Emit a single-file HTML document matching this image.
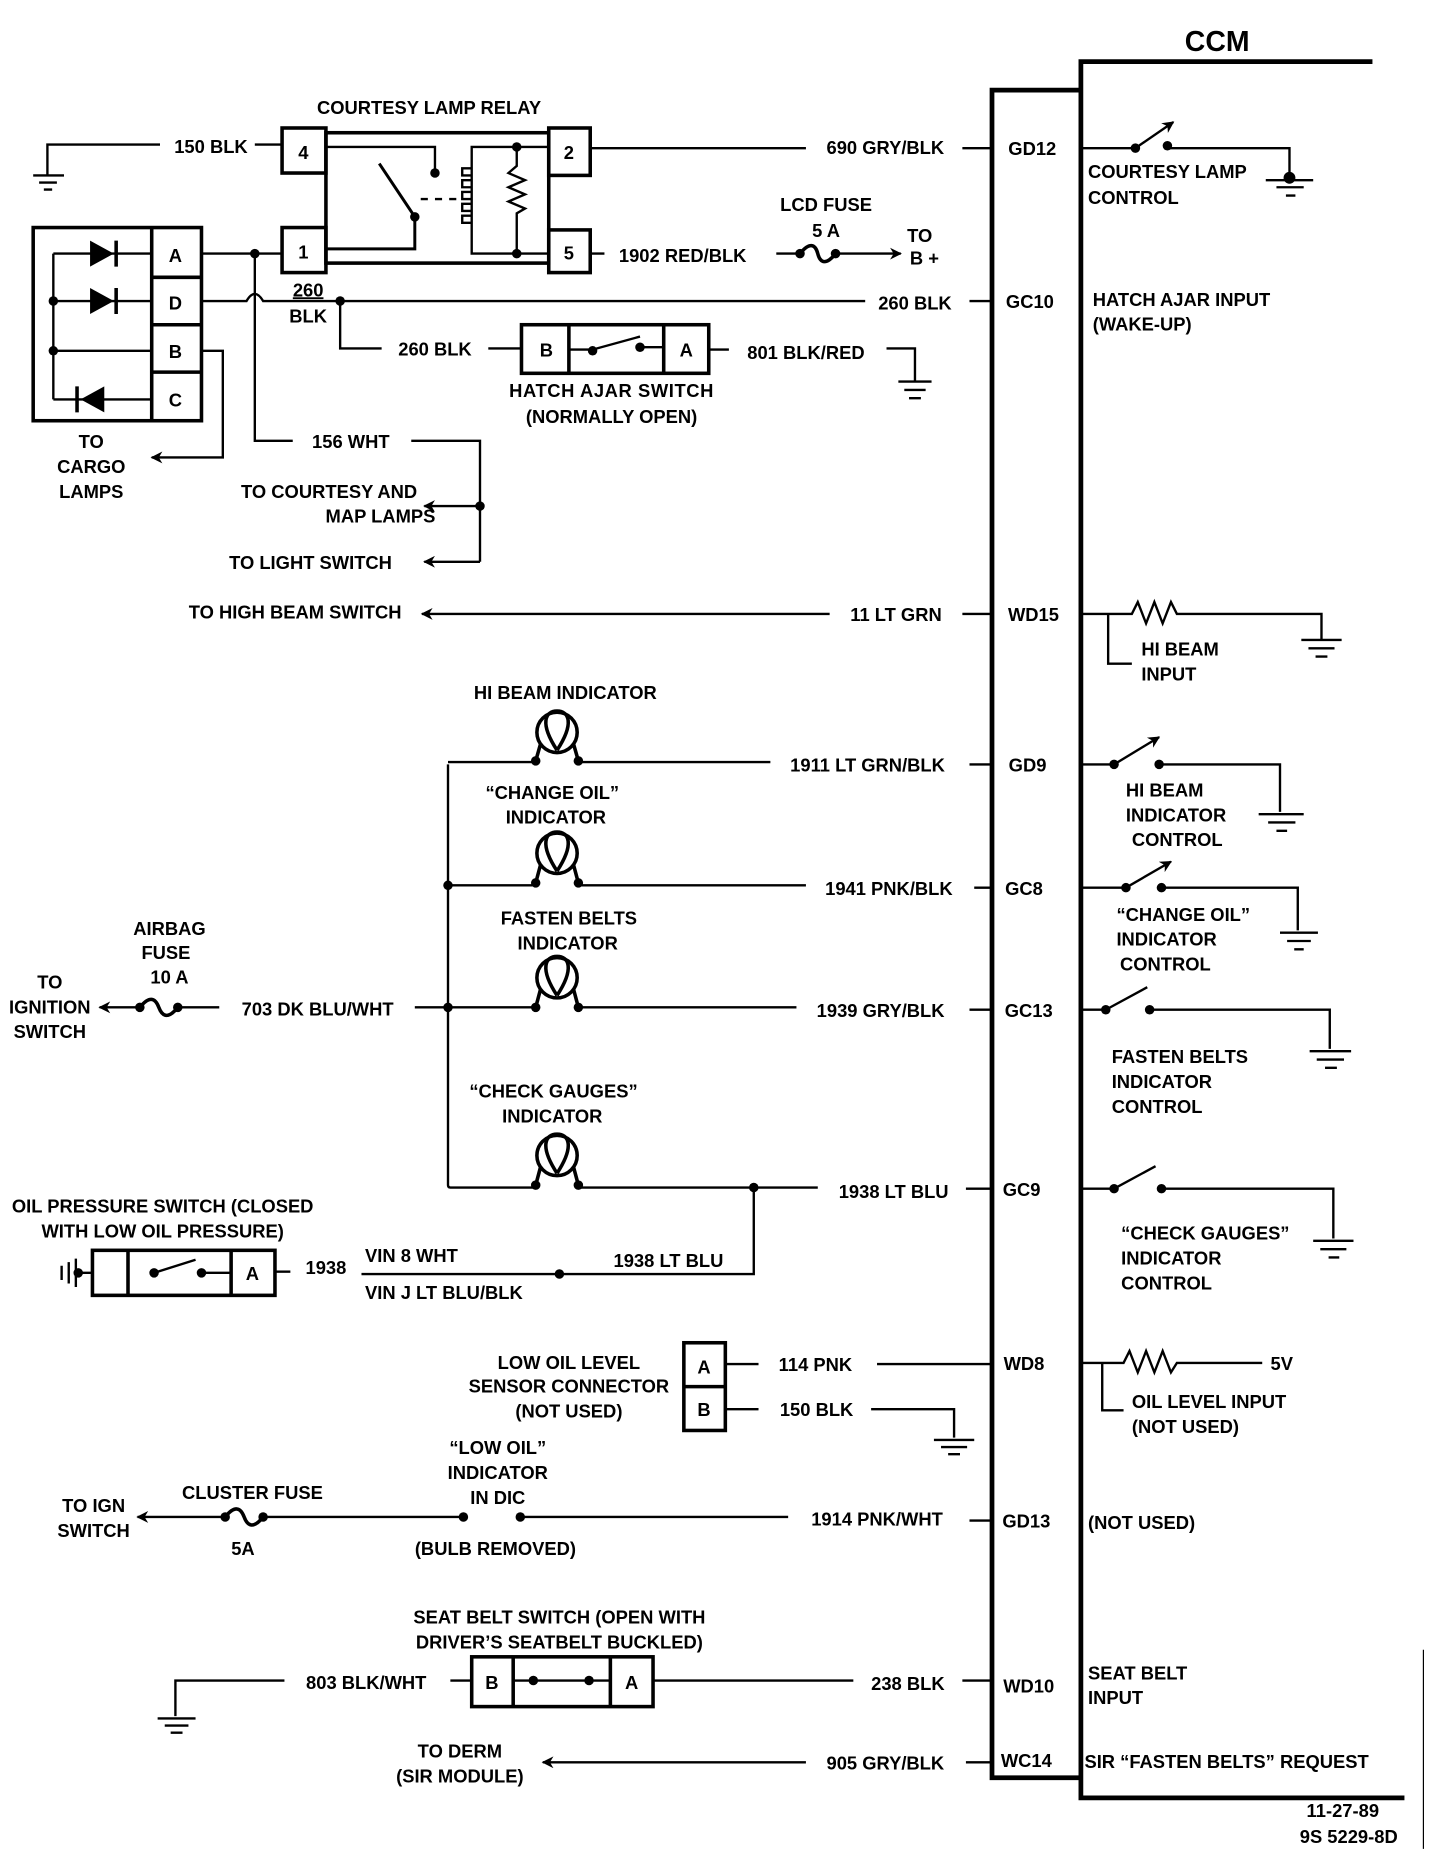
<!DOCTYPE html>
<html><head><meta charset="utf-8"><style>
html,body{margin:0;padding:0;background:#fff}
svg{display:block}
text{font-family:"Liberation Sans",sans-serif;font-weight:bold;font-size:15.5px;fill:#000}
.m{text-anchor:middle}.e{text-anchor:end}
</style></head><body>
<svg width="1440" height="1850" viewBox="0 0 1215 1561" preserveAspectRatio="none" xmlns="http://www.w3.org/2000/svg">
<defs>
<marker id="ar" viewBox="0 0 10 10" refX="9" refY="5" markerWidth="12" markerHeight="10" markerUnits="userSpaceOnUse" orient="auto"><path d="M10,5 L0,0 L3,5 L0,10 Z" fill="#000"/></marker>
</defs>
<g stroke="#000" stroke-width="2" fill="none">
<path d="M912,52 H1158 M912,50 V1517 H1185" stroke-width="4"/>
<path d="M912,76 H837 V1500 H912" stroke-width="4"/>
<path d="M135,122 H40 V148 M28,148 H54 M33,154 H48 M37,160 H44"/>
<path d="M215,122 H238"/>
<rect x="275" y="112" width="188" height="110" stroke-width="3"/>
<rect x="238" y="108" width="37" height="38" stroke-width="3"/>
<rect x="238" y="192" width="37" height="38" stroke-width="3"/>
<rect x="463" y="108" width="35" height="40" stroke-width="3"/>
<rect x="463" y="194" width="35" height="36" stroke-width="3"/>
<path d="M275,124 H367 V146"/>
<path d="M320,138 L350,183 V210 H275" stroke-width="2.5"/>
<path d="M355,168 H388" stroke-dasharray="6,6"/>
<path d="M436,124 H398 V214 H463 M436,124 H463"/>
<path d="M398,142 h-8 v6 h8 M398,152 h-8 v6 h8 M398,162 h-8 v6 h8 M398,172 h-8 v6 h8 M398,182 h-8 v6 h8"/>
<path d="M436,124 V140 l-7,6 l14,6 l-14,6 l14,6 l-14,6 l14,6 l-7,4 V214"/>
<path d="M498,125 H680 M812,125 H836"/>
<path d="M498,214 H510 M655,214 H675"/>
<path d="M675,214 C683,204 688,206 690,214 C692,222 697,224 705,214" stroke-width="3"/>
<path d="M705,214 H760" marker-end="url(#ar)"/>
<rect x="28" y="192" width="142" height="163" stroke-width="3"/>
<path d="M128,192 V355 M128,234 H170 M128,274 H170 M128,314 H170" stroke-width="3"/>
<path d="M45,214 H128 M45,254 H128 M45,296 H128 M45,337 H128 M45,214 V337"/>
<path d="M98,203 V225 M98,243 V265 M65,326 V348" stroke-width="3"/>
<path d="M170,214 H238 M215,214 V372 H247 M347,372 H405 V474"/>
<path d="M405,427 H358" marker-end="url(#ar)"/>
<path d="M405,474 H358" marker-end="url(#ar)"/>
<path d="M170,254 H208 Q215,242 222,254 H730 M818,254 H836"/>
<path d="M287,254 V294 H322 M412,294 H440"/>
<rect x="440" y="274" width="158" height="41" stroke-width="3"/>
<path d="M480,274 V315 M560,274 V315" stroke-width="3"/>
<path d="M480,295 H500 L540,284 M540,293 H560"/>
<path d="M598,295 H615 M748,294 H772 V322 M758,322 H786 M763,329 H781 M767,336 H777"/>
<path d="M170,296 H188 V386 H128" marker-end="url(#ar)"/>
<path d="M912,125 H958 M985,125 H1088 V150 M1068,152 H1108 M1077,158 H1100 M1085,165 H1093"/>
<path d="M958,125 L990,103" marker-end="url(#ar)"/>
<path d="M700,518 H356" marker-end="url(#ar)"/>
<path d="M812,518 H836"/>
<path d="M912,518 H955 l5,-10 l7,18 l7,-18 l7,18 l7,-18 l5,10 H1115 V540 M1098,540 H1132 M1104,547 H1126 M1110,554 H1120"/>
<path d="M935,518 V560 H955"/>
<path d="M378,645 V1000 Q378,1002 380,1002 H452 M488,1002 H690"/>
<path d="M378,643 H452 M488,643 H650 M818,645 H836"/>
<path d="M378,747 H452 M488,747 H680 M822,749 H836"/>
<path d="M350,850 H452 M488,850 H672 M818,852 H836"/>
<path d="M815,1003 H836"/>
<path d="M636,1002 V1075 H305"/>
<g stroke-width="3">
<circle cx="470" cy="618" r="17"/><path d="M470,633 C455,610 460,600 470,600 C480,600 485,610 470,633 M456,628 L452,642 M484,628 L488,642"/>
<circle cx="470" cy="720" r="17"/><path d="M470,735 C455,712 460,702 470,702 C480,702 485,712 470,735 M456,730 L452,745 M484,730 L488,745"/>
<circle cx="470" cy="825" r="17"/><path d="M470,840 C455,817 460,807 470,807 C480,807 485,817 470,840 M456,835 L452,850 M484,835 L488,850"/>
<circle cx="470" cy="975" r="17"/><path d="M470,990 C455,967 460,957 470,957 C480,957 485,967 470,990 M456,985 L452,1000 M484,985 L488,1000"/>
</g>
<path d="M118,850 H84" marker-end="url(#ar)"/>
<path d="M118,850 C126,840 131,842 134,850 C137,858 142,860 150,850" stroke-width="3"/>
<path d="M150,850 H185"/>
<path d="M912,645 H940 M978,645 H1080 V685 M1062,687 H1100 M1070,694 H1093 M1077,701 H1086"/>
<path d="M940,645 L978,622" marker-end="url(#ar)"/>
<path d="M912,749 H950 M980,749 H1095 V785 M1080,787 H1112 M1086,794 H1106 M1092,801 H1100"/>
<path d="M950,749 L988,727" marker-end="url(#ar)"/>
<path d="M912,852 H933 L968,833 M970,852 H1122 V885 M1105,887 H1140 M1111,894 H1134 M1118,901 H1128"/>
<path d="M912,1003 H940 L975,984 M980,1003 H1125 V1045 M1108,1047 H1142 M1114,1054 H1136 M1121,1061 H1130"/>
<rect x="78" y="1055" width="154" height="38" stroke-width="3"/>
<path d="M108,1055 V1093 M195,1055 V1093" stroke-width="3"/>
<path d="M130,1074 L165,1063 M170,1074 H195"/>
<path d="M64,1074 H78 M64,1062 V1086 M58,1065 V1083 M52,1068 V1080"/>
<path d="M232,1073 H245"/>
<rect x="577" y="1133" width="35" height="74" stroke-width="3"/>
<path d="M577,1170 H612" stroke-width="3"/>
<path d="M612,1151 H640 M740,1151 H836 M612,1189 H640 M735,1189 H805 V1213 M788,1215 H822 M794,1221 H816 M800,1227 H810"/>
<path d="M912,1150 H948 l5,-10 l7,18 l7,-18 l7,18 l7,-18 l7,18 l5,-8 H1065"/>
<path d="M930,1150 V1190 H948"/>
<path d="M190,1280 H116" marker-end="url(#ar)"/>
<path d="M190,1280 C198,1270 203,1272 206,1280 C209,1288 214,1290 222,1280" stroke-width="3"/>
<path d="M222,1280 H391 M439,1280 H665 M818,1283 H836"/>
<rect x="398" y="1398" width="153" height="42" stroke-width="3"/>
<path d="M433,1398 V1440 M515,1398 V1440" stroke-width="3"/>
<path d="M433,1418 H515"/>
<path d="M240,1418 H148 V1448 M133,1450 H165 M139,1456 H159 M144,1462 H154 M380,1418 H398 M551,1418 H720 M812,1418 H836"/>
<path d="M680,1487 H458" marker-end="url(#ar)"/>
<path d="M815,1487 H836"/>
<path d="M1201,1392 V1560" stroke-width="1"/>
</g>
<g fill="#000">
<path d="M76,203 L96,214 L76,225 Z"/><path d="M76,243 L96,254 L76,265 Z"/><path d="M88,326 L68,337 L88,348 Z"/>
<circle cx="45" cy="254" r="4"/><circle cx="45" cy="296" r="4"/>
<circle cx="215" cy="214" r="4"/><circle cx="287" cy="254" r="4"/>
<circle cx="367" cy="146" r="4"/><circle cx="350" cy="183" r="4"/><circle cx="436" cy="124" r="4"/><circle cx="436" cy="214" r="4"/>
<circle cx="675" cy="214" r="4"/><circle cx="705" cy="214" r="4"/>
<circle cx="500" cy="296" r="4"/><circle cx="540" cy="293" r="4"/>
<circle cx="405" cy="427" r="4"/>
<circle cx="958" cy="125" r="4"/><circle cx="985" cy="123" r="4"/><circle cx="1088" cy="150" r="5"/>
<circle cx="452" cy="642" r="4"/><circle cx="488" cy="642" r="4"/>
<circle cx="452" cy="745" r="4"/><circle cx="488" cy="745" r="4"/>
<circle cx="452" cy="850" r="4"/><circle cx="488" cy="850" r="4"/>
<circle cx="452" cy="1000" r="4"/><circle cx="488" cy="1000" r="4"/>
<circle cx="378" cy="747" r="4"/><circle cx="378" cy="850" r="4"/><circle cx="636" cy="1002" r="4"/><circle cx="472" cy="1075" r="4"/>
<circle cx="118" cy="850" r="4"/><circle cx="150" cy="850" r="4"/>
<circle cx="940" cy="645" r="4"/><circle cx="978" cy="645" r="4"/>
<circle cx="950" cy="749" r="4"/><circle cx="980" cy="749" r="4"/>
<circle cx="933" cy="852" r="4"/><circle cx="970" cy="852" r="4"/>
<circle cx="940" cy="1003" r="4"/><circle cx="980" cy="1003" r="4"/>
<circle cx="130" cy="1074" r="4"/><circle cx="170" cy="1074" r="4"/><circle cx="66" cy="1074" r="4"/>
<circle cx="190" cy="1280" r="4"/><circle cx="222" cy="1280" r="4"/><circle cx="391" cy="1280" r="4"/><circle cx="439" cy="1280" r="4"/>
<circle cx="450" cy="1418" r="4"/><circle cx="497" cy="1418" r="4"/>
</g>
<text x="1027" y="43" class="m" style="font-size:24px">CCM</text>
<text x="362" y="96" class="m">COURTESY LAMP RELAY</text>
<text x="178" y="129" class="m">150 BLK</text>
<text x="256" y="134" class="m">4</text><text x="256" y="218" class="m">1</text>
<text x="480" y="134" class="m">2</text><text x="480" y="219" class="m">5</text>
<text x="747" y="130" class="m">690 GRY/BLK</text>
<text x="576" y="221" class="m">1902 RED/BLK</text>
<text x="697" y="178" class="m">LCD FUSE</text><text x="697" y="200" class="m">5 A</text>
<text x="776" y="204" class="m">TO</text><text x="780" y="223" class="m">B +</text>
<text x="148" y="221" class="m">A</text><text x="148" y="261" class="m">D</text><text x="148" y="302" class="m">B</text><text x="148" y="343" class="m">C</text>
<text x="260" y="250" class="m" text-decoration="underline">260</text><text x="260" y="272" class="m">BLK</text>
<text x="772" y="261" class="m">260 BLK</text>
<text x="367" y="300" class="m">260 BLK</text>
<text x="461" y="301" class="m">B</text><text x="579" y="301" class="m">A</text>
<text x="680" y="303" class="m">801 BLK/RED</text>
<text x="516" y="335" class="m" style="letter-spacing:0.5px">HATCH  AJAR  SWITCH</text>
<text x="516" y="357" class="m">(NORMALLY OPEN)</text>
<text x="77" y="378" class="m">TO</text><text x="77" y="399" class="m">CARGO</text><text x="77" y="420" class="m">LAMPS</text>
<text x="296" y="378" class="m">156 WHT</text>
<text x="352" y="420" class="e">TO COURTESY AND</text><text x="321" y="441" class="m">MAP LAMPS</text>
<text x="262" y="480" class="m">TO LIGHT SWITCH</text>
<text x="871" y="131" class="m">GD12</text>
<text x="918" y="150">COURTESY LAMP</text><text x="918" y="172">CONTROL</text>
<text x="869" y="260" class="m">GC10</text>
<text x="922" y="258">HATCH AJAR INPUT</text><text x="922" y="279">(WAKE-UP)</text>
<text x="249" y="522" class="m">TO HIGH BEAM SWITCH</text>
<text x="756" y="524" class="m">11 LT GRN</text>
<text x="872" y="524" class="m">WD15</text>
<text x="963" y="553">HI BEAM</text><text x="963" y="574">INPUT</text>
<text x="477" y="590" class="m">HI BEAM INDICATOR</text>
<text x="732" y="651" class="m">1911 LT GRN/BLK</text>
<text x="867" y="651" class="m">GD9</text>
<text x="950" y="672">HI BEAM</text><text x="950" y="693">INDICATOR</text><text x="955" y="714">CONTROL</text>
<text x="466" y="674" class="m">“CHANGE OIL”</text><text x="469" y="695" class="m">INDICATOR</text>
<text x="750" y="755" class="m">1941 PNK/BLK</text>
<text x="864" y="755" class="m">GC8</text>
<text x="942" y="777">“CHANGE OIL”</text><text x="942" y="798">INDICATOR</text><text x="945" y="819">CONTROL</text>
<text x="480" y="780" class="m">FASTEN BELTS</text><text x="479" y="801" class="m">INDICATOR</text>
<text x="143" y="789" class="m">AIRBAG</text><text x="140" y="809" class="m">FUSE</text><text x="143" y="830" class="m">10 A</text>
<text x="42" y="834" class="m">TO</text><text x="42" y="855" class="m">IGNITION</text><text x="42" y="876" class="m">SWITCH</text>
<text x="268" y="857" class="m">703 DK BLU/WHT</text>
<text x="743" y="858" class="m">1939 GRY/BLK</text>
<text x="868" y="858" class="m">GC13</text>
<text x="938" y="897">FASTEN BELTS</text><text x="938" y="918">INDICATOR</text><text x="938" y="939">CONTROL</text>
<text x="467" y="926" class="m">“CHECK GAUGES”</text><text x="466" y="947" class="m">INDICATOR</text>
<text x="754" y="1011" class="m">1938 LT BLU</text>
<text x="862" y="1009" class="m">GC9</text>
<text x="946" y="1046">“CHECK GAUGES”</text><text x="946" y="1067">INDICATOR</text><text x="946" y="1088">CONTROL</text>
<text x="10" y="1023">OIL PRESSURE SWITCH  (CLOSED</text><text x="35" y="1044">WITH LOW OIL PRESSURE)</text>
<text x="213" y="1080" class="m">A</text>
<text x="275" y="1075" class="m">1938</text>
<text x="308" y="1065">VIN 8  WHT</text>
<text x="308" y="1096">VIN J  LT BLU/BLK</text>
<text x="564" y="1069" class="m">1938 LT BLU</text>
<text x="480" y="1155" class="m">LOW OIL LEVEL</text><text x="480" y="1175" class="m">SENSOR CONNECTOR</text><text x="480" y="1196" class="m">(NOT USED)</text>
<text x="594" y="1159" class="m">A</text><text x="594" y="1195" class="m">B</text>
<text x="688" y="1157" class="m">114 PNK</text><text x="689" y="1195" class="m">150 BLK</text>
<text x="864" y="1156" class="m">WD8</text>
<text x="1072" y="1156">5V</text>
<text x="955" y="1188">OIL LEVEL INPUT</text><text x="955" y="1209">(NOT USED)</text>
<text x="420" y="1227" class="m">“LOW OIL”</text><text x="420" y="1248" class="m">INDICATOR</text><text x="420" y="1269" class="m">IN DIC</text>
<text x="79" y="1276" class="m">TO IGN</text><text x="79" y="1297" class="m">SWITCH</text>
<text x="213" y="1265" class="m">CLUSTER FUSE</text><text x="205" y="1312" class="m">5A</text>
<text x="418" y="1312" class="m">(BULB REMOVED)</text>
<text x="740" y="1287" class="m">1914 PNK/WHT</text>
<text x="866" y="1289" class="m">GD13</text>
<text x="918" y="1290">(NOT USED)</text>
<text x="472" y="1370" class="m">SEAT BELT SWITCH  (OPEN WITH</text><text x="472" y="1391" class="m">DRIVER’S SEATBELT BUCKLED)</text>
<text x="309" y="1425" class="m">803 BLK/WHT</text>
<text x="415" y="1425" class="m">B</text><text x="533" y="1425" class="m">A</text>
<text x="766" y="1426" class="m">238 BLK</text>
<text x="868" y="1428" class="m">WD10</text>
<text x="918" y="1417">SEAT BELT</text><text x="918" y="1438">INPUT</text>
<text x="388" y="1483" class="m">TO DERM</text><text x="388" y="1504" class="m">(SIR MODULE)</text>
<text x="747" y="1493" class="m">905 GRY/BLK</text>
<text x="866" y="1491" class="m">WC14</text>
<text x="915" y="1492">SIR “FASTEN BELTS” REQUEST</text>
<text x="1133" y="1533" class="m">11-27-89</text><text x="1138" y="1555" class="m">9S 5229-8D</text>
</svg>
</body></html>
